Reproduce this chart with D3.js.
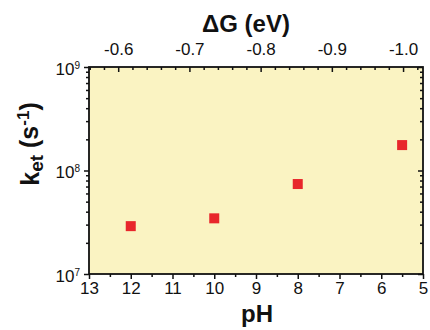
<!DOCTYPE html>
<html><head><meta charset="utf-8">
<script src="https://cdn.jsdelivr.net/npm/d3@7"></script>
<style>
body{margin:0;background:#fff;}
svg{display:block;font-family:"Liberation Sans",Arial,sans-serif;}
</style></head>
<body><svg id="c" width="430" height="330"></svg>
<script>
// data
const pH = [12, 10, 8, 5.5];
const ket = [2.9e7, 3.45e7, 7.4e7, 1.76e8];
const pHTicks = [13, 12, 11, 10, 9, 8, 7, 6, 5];
const pHMinor = [12.5, 11.5, 10.5, 9.5, 8.5, 7.5, 6.5, 5.5];
const dGTicks = [-0.6, -0.7, -0.8, -0.9, -1.0];
const dGTickLabels = ["-0.6", "-0.7", "-0.8", "-0.9", "-1.0"];
const dGMinor = [-0.56, -0.58, -0.62, -0.64, -0.66, -0.68, -0.72, -0.74, -0.76, -0.78, -0.82, -0.84, -0.86, -0.88, -0.92, -0.94, -0.96, -0.98, -1.02];
const yTicks = [1e7, 1e8, 1e9];
const yExp = ["7", "8", "9"];
const yMinor = [2e7,3e7,4e7,5e7,6e7,7e7,8e7,9e7,2e8,3e8,4e8,5e8,6e8,7e8,8e8,9e8];
const dGDomain = [-0.559, -1.028];

const L = 89, R = 423, T = 67, B = 274;
const svg = d3.select("#c");
const x = d3.scaleLinear().domain([13, 5]).range([L, R]);
const xTop = d3.scaleLinear().domain(dGDomain).range([L, R]);
const y = d3.scaleLog().domain([1e7, 1e9]).range([B, T]);

svg.append("rect").attr("x", L).attr("y", T).attr("width", R - L).attr("height", B - T)
  .attr("fill", "#faf3c2");

function style(g) {
  g.selectAll(".domain").remove();
  g.selectAll("line").attr("stroke", "#111").attr("stroke-width", 1.5);
  g.selectAll("text").attr("fill", "#111");
}

// bottom
const gb = svg.append("g").attr("transform", `translate(0,${B})`)
  .call(d3.axisBottom(x).tickValues(pHTicks).tickSize(5).tickPadding(3).tickFormat(d3.format("d")));
gb.selectAll("text").style("font-size", "17px");
style(gb);
svg.append("g").attr("transform", `translate(0,${B})`)
  .call(d3.axisBottom(x).tickValues(pHMinor).tickSize(3).tickFormat(""))
  .call(style);

// top
const gt = svg.append("g").attr("transform", `translate(0,${T})`)
  .call(d3.axisTop(xTop).tickValues(dGTicks).tickSize(-5).tickPadding(12).tickFormat((d, i) => dGTickLabels[i]));
gt.selectAll("text").style("font-size", "17px");
style(gt);
svg.append("g").attr("transform", `translate(0,${T})`)
  .call(d3.axisTop(xTop).tickValues(dGMinor).tickSize(-3).tickFormat(""))
  .call(style);

// left
const gl = svg.append("g").attr("transform", `translate(${L},0)`)
  .call(d3.axisLeft(y).tickValues(yTicks).tickSize(5).tickPadding(9).tickFormat(""));
style(gl);
gl.selectAll(".tick").each(function (d, i) {
  const t = d3.select(this).append("text").attr("x", -9).attr("dy", "0.42em")
    .attr("text-anchor", "end").attr("fill", "#111").style("font-size", "17px");
  t.append("tspan").text("10");
  t.append("tspan").attr("dy", "-0.6em").style("font-size", "10px").text(yExp[i]);
});
svg.append("g").attr("transform", `translate(${L},0)`)
  .call(d3.axisLeft(y).tickValues(yMinor).tickSize(3).tickFormat(""))
  .call(style);

// right
svg.append("g").attr("transform", `translate(${R},0)`)
  .call(d3.axisRight(y).tickValues(yTicks).tickSize(-5).tickFormat(""))
  .call(style);
svg.append("g").attr("transform", `translate(${R},0)`)
  .call(d3.axisRight(y).tickValues(yMinor).tickSize(-3).tickFormat(""))
  .call(style);

// frame
svg.append("rect").attr("x", L).attr("y", T).attr("width", R - L).attr("height", B - T)
  .attr("fill", "none").attr("stroke", "#111").attr("stroke-width", 1.8);

// points
const s = 10;
svg.append("g").selectAll("rect").data(pH).join("rect")
  .attr("x", (d) => x(d) - s / 2).attr("y", (d, i) => y(ket[i]) - s / 2)
  .attr("width", s).attr("height", s).attr("fill", "#e8262b");

// titles
svg.append("text").attr("x", 246).attr("y", 32).attr("text-anchor", "middle")
  .style("font-size", "24px").style("font-weight", "bold").attr("fill", "#111").text("ΔG (eV)");
svg.append("text").attr("x", 257).attr("y", 322).attr("text-anchor", "middle")
  .style("font-size", "24px").style("font-weight", "bold").attr("fill", "#111").text("pH");
const yl = svg.append("text").attr("transform", "translate(39,144) rotate(-90)")
  .attr("text-anchor", "middle").style("font-size", "25px").style("font-weight", "bold").attr("fill", "#111");
yl.append("tspan").text("k");
yl.append("tspan").attr("dy", "0.22em").style("font-size", "19px").text("et");
yl.append("tspan").attr("dy", "-0.22em").text(" (s");
yl.append("tspan").attr("dy", "-0.5em").style("font-size", "17px").text("-1");
yl.append("tspan").attr("dy", "0.35em").text(")");
</script></body></html>
